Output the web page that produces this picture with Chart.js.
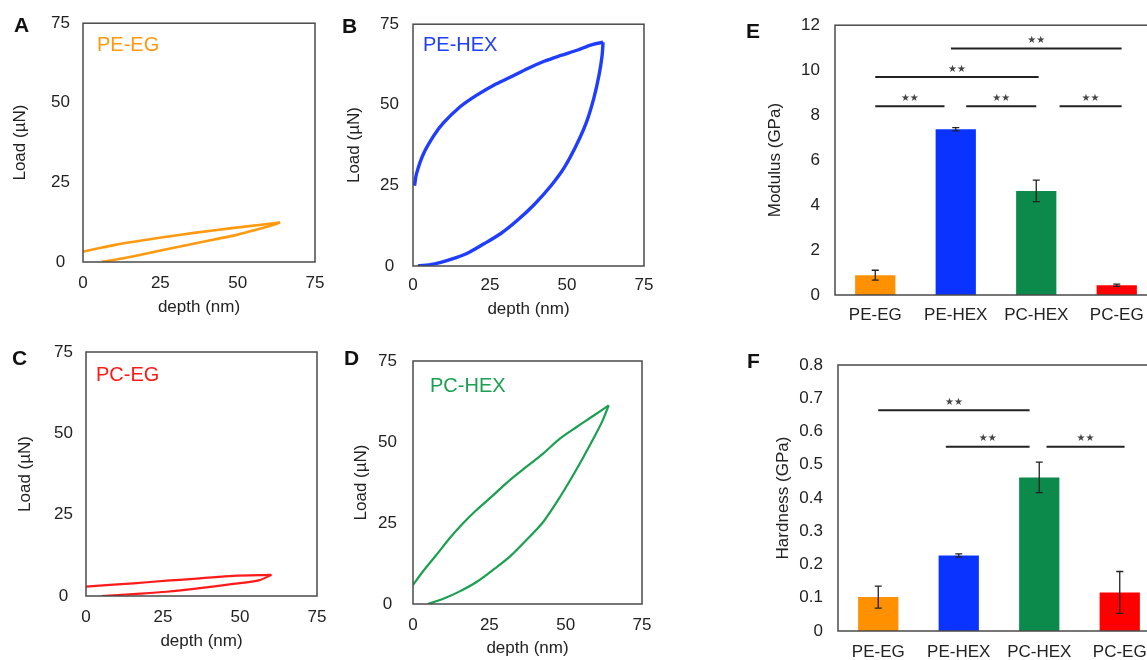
<!DOCTYPE html>
<html>
<head>
<meta charset="utf-8">
<script src="https://cdn.jsdelivr.net/npm/chart.js@4.4.1/dist/chart.umd.min.js"></script>
<style>
  html, body { margin: 0; padding: 0; background: #fff; overflow: hidden; }
  #fig { position: relative; width: 1147px; height: 660px; overflow: hidden; font-family: "Liberation Sans", Arial, sans-serif; }
  #fig canvas { position: absolute; }
  .tag { position: absolute; font-weight: bold; font-size: 21px; line-height: 21px; color: #111; }
  .lbl { position: absolute; font-size: 20px; line-height: 20px; }
</style>
</head>
<body>
<div id="fig">
  <canvas id="cA" width="340" height="325" style="left:0;top:0"></canvas>
  <canvas id="cB" width="340" height="325" style="left:340px;top:0"></canvas>
  <canvas id="cC" width="340" height="335" style="left:0;top:325px"></canvas>
  <canvas id="cD" width="340" height="335" style="left:340px;top:325px"></canvas>
  <canvas id="cE" width="420" height="325" style="left:740px;top:0"></canvas>
  <canvas id="cF" width="420" height="335" style="left:740px;top:325px"></canvas>

  <div class="tag" style="left:14px;top:14px">A</div>
  <div class="tag" style="left:342px;top:15px">B</div>
  <div class="tag" style="left:12px;top:347px">C</div>
  <div class="tag" style="left:344px;top:347px">D</div>
  <div class="tag" style="left:746px;top:20px">E</div>
  <div class="tag" style="left:747px;top:350px">F</div>

  <div class="lbl" style="left:97px;top:34px;color:#ff9a10">PE-EG</div>
  <div class="lbl" style="left:423px;top:34px;color:#1f3dff">PE-HEX</div>
  <div class="lbl" style="left:96px;top:364px;color:#ff1a1a">PC-EG</div>
  <div class="lbl" style="left:430px;top:375px;color:#1aa050">PC-HEX</div>
</div>

<script>
// load-depth curves, [depth nm, load uN]
var depthTicks = [0, 25, 50, 75];
var loadTicks = [0, 25, 50, 75];

var peEgUpper = [[0, 3.3], [10, 5.3], [20.6, 7.0], [31, 8.5], [42, 9.9], [53, 11.2], [63.7, 12.4]];
var peEgLower = [[6, 0], [12, 1.0], [20.6, 2.7], [31, 4.8], [42, 7.0], [50, 8.6], [55, 9.9], [60, 11.2], [63.7, 12.4]];

var peHexUpper = [[0.5, 24.9], [1.1, 28.5], [3.3, 34.6], [6.6, 40.2], [9.8, 44.3], [15.3, 49.4], [20.7, 53.0],
  [26.2, 56.1], [31.7, 58.6], [37.1, 61.2], [42.6, 63.5], [48.0, 65.3], [53.5, 67.0], [57.9, 68.6], [61.7, 69.4]];
var peHexLower = [[1.6, 0], [6.6, 0.6], [12.0, 2.0], [17.5, 3.9], [22.9, 6.8], [28.4, 10.0], [33.8, 14.1],
  [39.3, 19.0], [44.8, 24.9], [49.1, 30.5], [52.9, 37.2], [56.2, 44.3], [58.7, 52.0], [60.4, 59.2],
  [61.4, 65.3], [61.7, 69.4]];

var pcEgUpper = [[0, 2.9], [15.4, 3.9], [26.2, 4.7], [37, 5.4], [47.8, 6.2], [60.2, 6.5]];
var pcEgLower = [[5.1, 0], [15.4, 0.6], [26.2, 1.3], [37, 2.4], [47.8, 3.7], [56.4, 4.9], [60.2, 6.5]];

var pcHexUpper = [[0, 5.9], [3.3, 10.1], [7.7, 15.2], [12.0, 20.3], [16.4, 24.9], [20.8, 29.0], [26.3, 33.6],
  [31.8, 38.3], [37.2, 42.4], [42.7, 46.5], [48.2, 51.1], [53.7, 54.7], [59.1, 58.1], [64.1, 61.3]];
var pcHexLower = [[4.9, 0], [9.9, 1.6], [15.3, 3.9], [20.8, 6.8], [26.3, 10.6], [31.8, 14.7], [37.2, 19.8],
  [42.7, 25.4], [48.2, 33.1], [53.7, 41.8], [59.1, 51.1], [61.9, 56.2], [64.1, 61.3]];

// bar panels
var groups = ['PE-EG', 'PE-HEX', 'PC-HEX', 'PC-EG'];
var barColors = ['#ff9000', '#0a33ff', '#0b8a4b', '#ff0000'];
var modulus = [0.88, 7.37, 4.63, 0.43];
var modulusErr = [0.22, 0.07, 0.48, 0.05];
var modulusTicks = [0, 2, 4, 6, 8, 10, 12];
var hardness = [0.102, 0.227, 0.462, 0.116];
var hardnessErr = [0.033, 0.005, 0.046, 0.063];
var hardnessTicks = [0, 0.1, 0.2, 0.3, 0.4, 0.5, 0.6, 0.7, 0.8];
// significance bars: [from category, to category, level]
var modulusSig = [[0, 0.86, 8.4], [1.13, 2.0, 8.4], [2.29, 3.06, 8.4], [0, 2.03, 9.7], [0.94, 3.06, 10.96]];
var hardnessSig = [[0, 1.88, 0.664], [0.84, 1.88, 0.554], [2.09, 3.06, 0.554]];

Chart.defaults.font.family = "'Liberation Sans', Arial, sans-serif";
Chart.defaults.color = '#222';

var frame = {
  id: 'frame',
  afterDatasetsDraw: function(chart) {
    var a = chart.chartArea, ctx = chart.ctx;
    ctx.save();
    ctx.strokeStyle = '#4a4a4a';
    ctx.lineWidth = 1.5;
    ctx.strokeRect(a.left, a.top, a.right - a.left, a.bottom - a.top);
    ctx.restore();
  }
};

function toPts(arr) {
  return arr.map(function(p) { return { x: p[0], y: p[1] }; });
}

function lineChart(id, upper, lower, color, width, g) {
  var curve = { showLine: true, borderColor: color, borderWidth: width, pointRadius: 0, tension: 0.3 };
  new Chart(document.getElementById(id), {
    type: 'scatter',
    data: {
      datasets: [
        Object.assign({ data: toPts(upper) }, curve),
        Object.assign({ data: toPts(lower) }, curve)
      ]
    },
    options: {
      responsive: false, animation: false, devicePixelRatio: 1,
      layout: { padding: { top: g.top, right: g.right, left: 0, bottom: 0 } },
      plugins: { legend: { display: false }, tooltip: { enabled: false } },
      scales: {
        x: {
          type: 'linear', min: 0, max: 75,
          afterBuildTicks: function(s) { s.ticks = depthTicks.map(function(v) { return { value: v }; }); },
          afterFit: function(s) { s.height = g.xh; },
          grid: { display: false, drawTicks: false }, border: { display: false },
          ticks: { padding: g.xpad, font: { size: 17 } },
          title: { display: true, text: 'depth (nm)', font: { size: 17 }, padding: { top: 0, bottom: g.xtb } }
        },
        y: {
          type: 'linear', min: 0, max: 75,
          afterBuildTicks: function(s) { s.ticks = loadTicks.map(function(v) { return { value: v }; }); },
          afterFit: function(s) { s.width = g.yw; },
          grid: { display: false, drawTicks: false }, border: { display: false },
          ticks: { padding: g.ypad, crossAlign: 'center', font: { size: 17 } },
          title: { display: true, text: 'Load (µN)', font: { size: 17 }, padding: { top: g.ytt, bottom: 0 } }
        }
      }
    },
    plugins: [frame]
  });
}

function sigPlugin(values, errs, sig) {
  return {
    id: 'sig',
    afterDatasetsDraw: function(chart) {
      var ctx = chart.ctx, xs = chart.scales.x, ys = chart.scales.y;
      ctx.save();
      ctx.strokeStyle = '#222';
      ctx.lineWidth = 1.3;
      values.forEach(function(v, i) {
        var x = xs.getPixelForValue(i);
        var y1 = ys.getPixelForValue(v + errs[i]), y2 = ys.getPixelForValue(v - errs[i]);
        ctx.beginPath();
        ctx.moveTo(x, y1); ctx.lineTo(x, y2);
        ctx.moveTo(x - 3.5, y1); ctx.lineTo(x + 3.5, y1);
        ctx.moveTo(x - 3.5, y2); ctx.lineTo(x + 3.5, y2);
        ctx.stroke();
      });
      ctx.lineWidth = 2;
      ctx.fillStyle = '#444';
      ctx.font = "10px 'DejaVu Sans'";
      ctx.textAlign = 'center';
      ctx.textBaseline = 'middle';
      sig.forEach(function(s) {
        var xa = xs.getPixelForValue(s[0]), xb = xs.getPixelForValue(s[1]), y = ys.getPixelForValue(s[2]);
        ctx.beginPath();
        ctx.moveTo(xa, y); ctx.lineTo(xb, y);
        ctx.stroke();
        ctx.fillText('★★', (xa + xb) / 2, y - 8);
      });
      ctx.restore();
    }
  };
}

function barChart(id, values, errs, sig, ticks, title, g) {
  new Chart(document.getElementById(id), {
    type: 'bar',
    data: {
      labels: groups,
      datasets: [{ data: values, backgroundColor: barColors, barPercentage: 0.5, categoryPercentage: 1 }]
    },
    options: {
      responsive: false, animation: false, devicePixelRatio: 1,
      layout: { padding: { top: g.top, right: g.right, left: 0, bottom: 0 } },
      plugins: { legend: { display: false }, tooltip: { enabled: false } },
      scales: {
        x: {
          afterFit: function(s) { s.height = g.xh; },
          grid: { display: false, drawTicks: false }, border: { display: false },
          ticks: { padding: g.xpad, font: { size: 17 }, maxRotation: 0, autoSkip: false }
        },
        y: {
          min: 0, max: ticks[ticks.length - 1],
          afterBuildTicks: function(s) { s.ticks = ticks.map(function(v) { return { value: v }; }); },
          afterFit: function(s) { s.width = g.yw; },
          grid: { display: false, drawTicks: false }, border: { display: false },
          ticks: { padding: g.ypad, font: { size: 17 }, callback: function(v) { return String(v); } },
          title: { display: true, text: title, font: { size: 17 }, padding: { top: g.ytt, bottom: 0 } }
        }
      }
    },
    plugins: [frame, sigPlugin(values, errs, sig)]
  });
}

lineChart('cA', peEgUpper, peEgLower, '#ff9a10', 2.6, { top: 19, right: 25, yw: 83, xh: 63, xpad: 11, xtb: 7, ypad: 13, ytt: 10 });
lineChart('cB', peHexUpper, peHexLower, '#1f3dff', 3.4, { top: 22, right: 36, yw: 73, xh: 59, xpad: 9, xtb: 5, ypad: 14, ytt: 4 });
lineChart('cC', pcEgUpper, pcEgLower, '#ff1a1a', 2.2, { top: 27, right: 23, yw: 86, xh: 64, xpad: 11, xtb: 8, ypad: 13, ytt: 15 });
lineChart('cD', pcHexUpper, pcHexLower, '#1aa050', 2.2, { top: 36, right: 38, yw: 73, xh: 56, xpad: 11, xtb: 1, ypad: 16, ytt: 11 });

barChart('cE', modulus, modulusErr, modulusSig, modulusTicks, 'Modulus (GPa)', { top: 25, right: 3, yw: 95, xh: 30, xpad: 10, ypad: 15, ytt: 25 });
barChart('cF', hardness, hardnessErr, hardnessSig, hardnessTicks, 'Hardness (GPa)', { top: 40, right: 0, yw: 98, xh: 29, xpad: 11, ypad: 15, ytt: 33 });
</script>
</body>
</html>
